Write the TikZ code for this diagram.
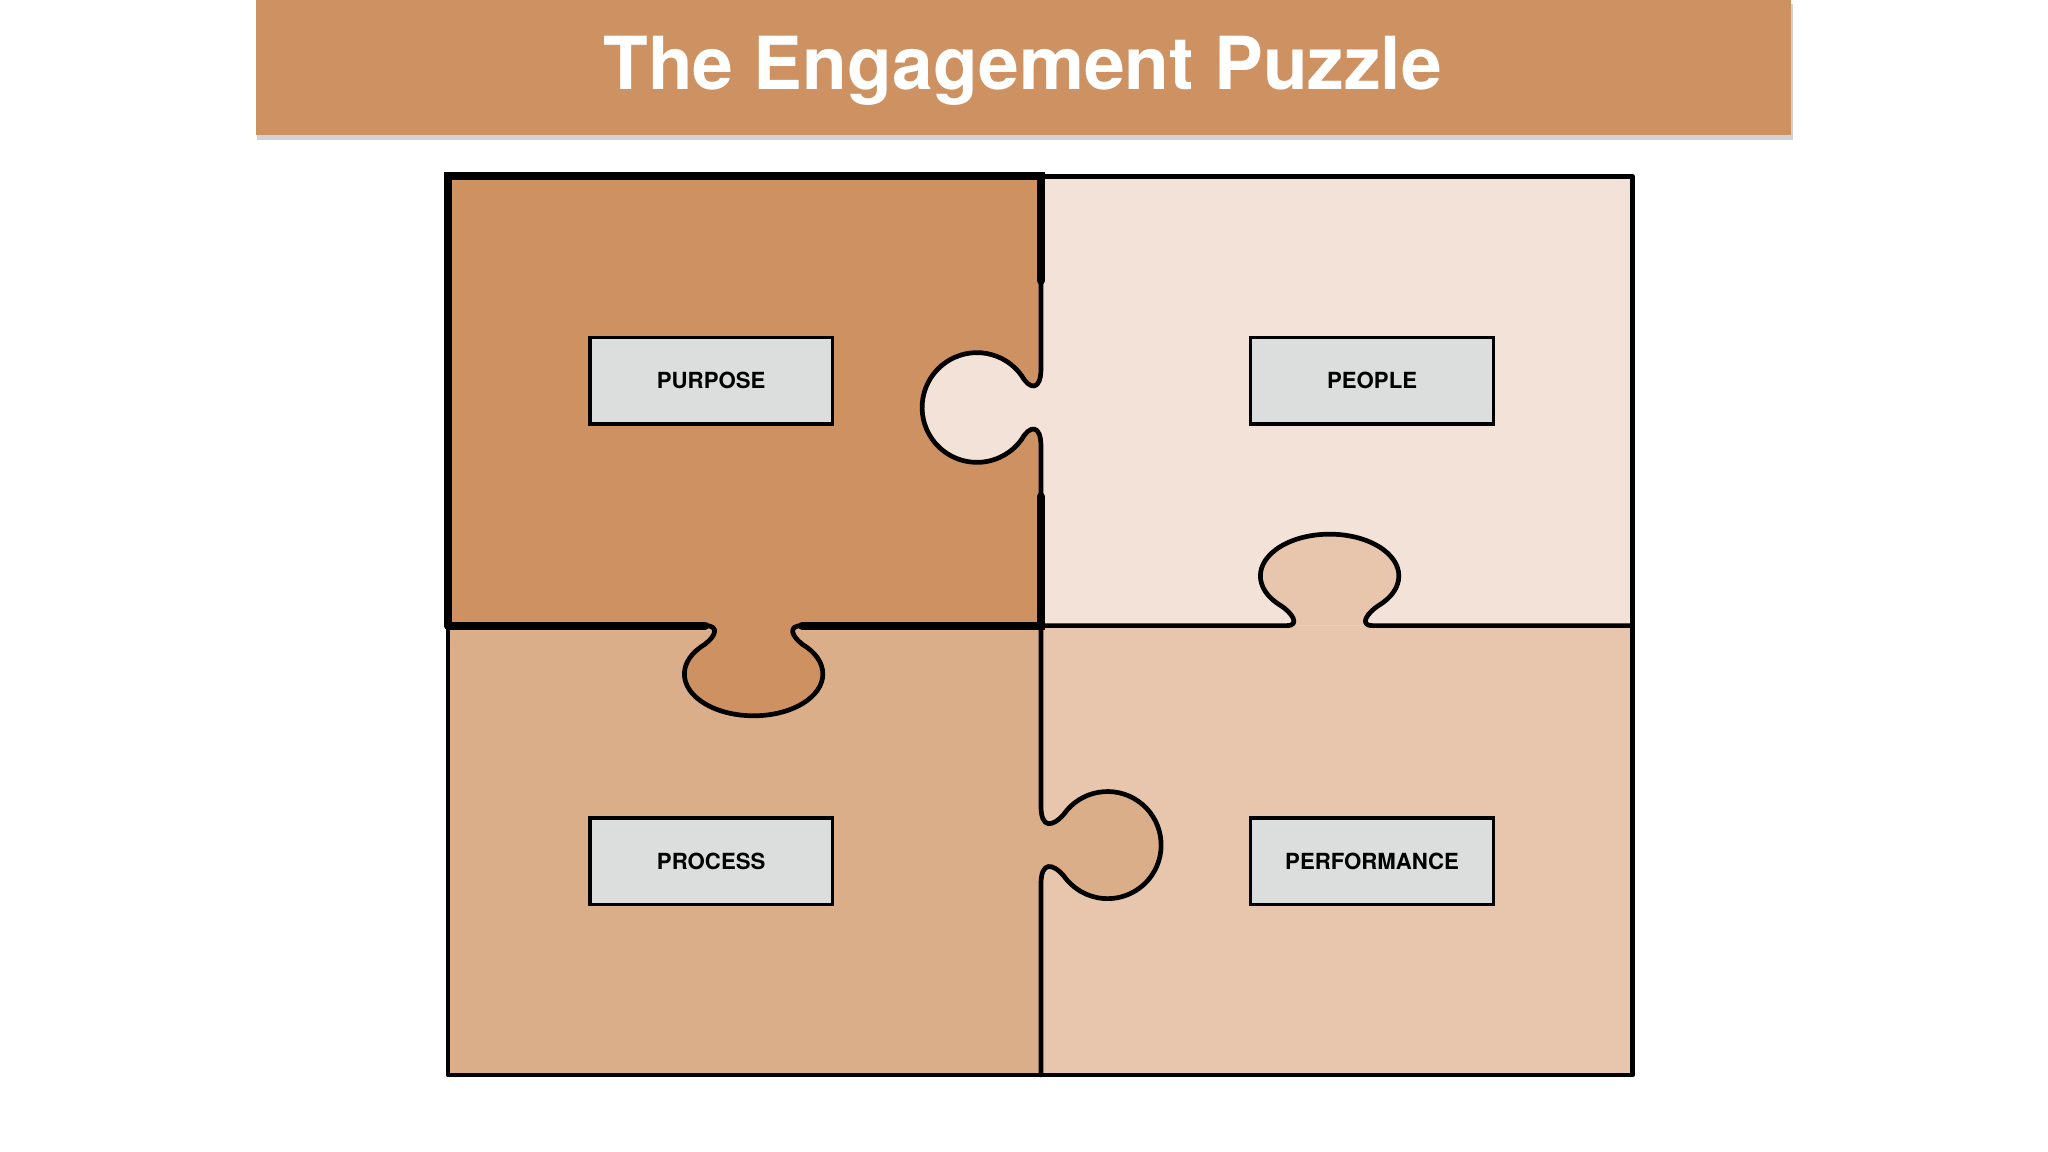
\documentclass[tikz,border=0pt]{standalone}
\usepackage{fontspec}
\setmainfont{TeX Gyre Heros}
\definecolor{tl}{HTML}{CE9162}
\definecolor{tr}{HTML}{F3E2D8}
\definecolor{bl}{HTML}{DBAE8A}
\definecolor{br}{HTML}{E7C6AD}
\definecolor{lab}{HTML}{DCDEDE}
\begin{document}
\begin{tikzpicture}[x=1pt,y=-1pt,
  edge/.style={line width=3.6pt,line join=round,line cap=round},
  labelbox/.style={draw,line width=2.8pt,fill=lab,minimum width=186pt,minimum height=66pt,inner sep=0pt,font=\bfseries\fontsize{17}{17}\selectfont}]
\useasboundingbox[fill=white] (0,0) rectangle (1568,882);
% title
\fill[black!35,opacity=0.5] (197,3) rectangle (1373,107);
\fill[tl] (196,0) rectangle (1371,103);
\node[text=white,font=\bfseries\fontsize{56}{56}\selectfont] (title) at (783,54) {The Engagement Puzzle};
% quadrants
\fill[tl] (343,135) rectangle (797,479);
\fill[tr] (797,135) rectangle (1250,479);
\fill[bl] (343,479) rectangle (797,823);
\fill[br] (797,479) rectangle (1250,823);
% tab fills
\fill[tr] (797,282) .. controls (797,300) and (788,298) .. (782.4,287.9) arc[start angle=-35,end angle=-325,radius=42] .. controls (788,326) and (797,324) .. (797,342) -- cycle;
\fill[br] (985,479) .. controls (996,479) and (989,469) .. (980.5,463.6) arc[start angle=135,end angle=405,x radius=53,y radius=32] .. controls (1047,469) and (1040,479) .. (1051,479) -- cycle;
\fill[tl] (540,479) .. controls (551,479) and (548,487) .. (539.5,493.4) arc[start angle=-135,end angle=-405,x radius=53,y radius=32] .. controls (606,487) and (603,479) .. (614,479) -- cycle;
\fill[bl] (797,617) .. controls (797,635) and (806,633) .. (814.4,623.5) arc[start angle=-145,end angle=145,radius=41] .. controls (806,661) and (797,659) .. (797,677) -- cycle;
% outlines
\draw[edge] (343,135) rectangle (1250,823);
\draw[edge] (797,135) -- (797,282) .. controls (797,300) and (788,298) .. (782.4,287.9) arc[start angle=-35,end angle=-325,radius=42] .. controls (788,326) and (797,324) .. (797,342) -- (797,479);
\draw[edge] (797,479) -- (985,479) .. controls (996,479) and (989,469) .. (980.5,463.6) arc[start angle=135,end angle=405,x radius=53,y radius=32] .. controls (1047,469) and (1040,479) .. (1051,479) -- (1250,479);
\draw[edge] (343,479) -- (540,479) .. controls (551,479) and (548,487) .. (539.5,493.4) arc[start angle=-135,end angle=-405,x radius=53,y radius=32] .. controls (606,487) and (603,479) .. (614,479) -- (797,479);
\draw[edge] (797,479) -- (797,617) .. controls (797,635) and (806,633) .. (814.4,623.5) arc[start angle=-145,end angle=145,radius=41] .. controls (806,661) and (797,659) .. (797,677) -- (797,823);
\draw[line width=6pt,line cap=round] (343,479) -- (343,135) -- (797,135) -- (797,215);
\draw[line width=6pt,line cap=round] (343,479) -- (540,479);
\draw[line width=6pt,line cap=round] (797,380) -- (797,479) -- (614,479);
% labels
\node[labelbox] (purpose) at (544.5,291.5) {PURPOSE};
\node[labelbox] (people) at (1050.5,291.5) {PEOPLE};
\node[labelbox] (process) at (544.5,659.5) {PROCESS};
\node[labelbox] (performance) at (1050.5,659.5) {PERFORMANCE};
\end{tikzpicture}
\end{document}
